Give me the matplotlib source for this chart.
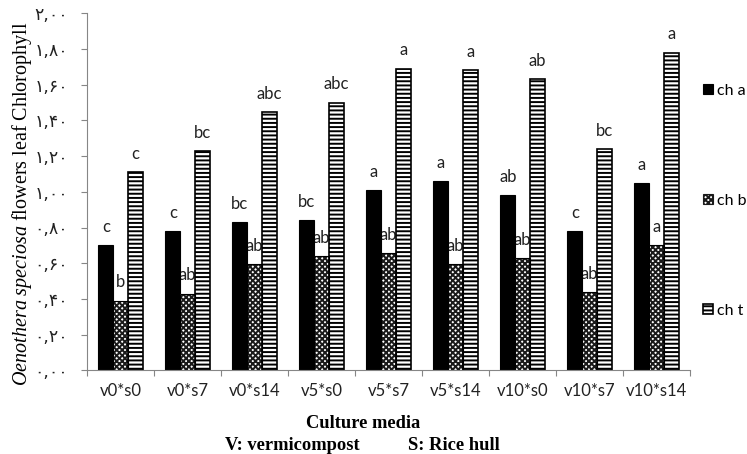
import matplotlib
matplotlib.use("Agg")
import matplotlib.pyplot as plt
import numpy as np
from matplotlib.patches import Patch

categories = ['v0*s0', 'v0*s7', 'v0*s14', 'v5*s0', 'v5*s7', 'v5*s14', 'v10*s0', 'v10*s7', 'v10*s14']
ch_a = [0.70, 0.78, 0.83, 0.84, 1.01, 1.06, 0.98, 0.78, 1.05]
ch_b = [0.39, 0.43, 0.595, 0.64, 0.655, 0.595, 0.63, 0.44, 0.70]
ch_t = [1.11, 1.23, 1.445, 1.50, 1.69, 1.68, 1.63, 1.24, 1.78]
let_a = ['c', 'c', 'bc', 'bc', 'a', 'a', 'ab', 'c', 'a']
let_b = ['b', 'ab', 'ab', 'ab', 'ab', 'ab', 'ab', 'ab', 'a']
let_t = ['c', 'bc', 'abc', 'abc', 'a', 'a', 'ab', 'bc', 'a']
series_names = ['ch a', 'ch b', 'ch t']
ytick_vals = [0.0, 0.2, 0.4, 0.6, 0.8, 1.0, 1.2, 1.4, 1.6, 1.8, 2.0]
ytick_labels = ['۰,۰۰', '۰,۲۰', '۰,۴۰', '۰,۶۰', '۰,۸۰', '۱,۰۰', '۱,۲۰', '۱,۴۰', '۱,۶۰', '۱,۸۰', '۲,۰۰']

plt.rcParams['hatch.linewidth'] = 1.4
plt.rcParams['mathtext.fontset'] = 'custom'
plt.rcParams['mathtext.rm'] = 'Liberation Serif'
plt.rcParams['mathtext.it'] = 'Liberation Serif:italic'

sans = 'Lato'
fig = plt.figure(figsize=(7.47, 4.54), dpi=100)
ax = fig.add_axes([87/747, 1 - 370.3/454, (690 - 87)/747, (370.3 - 13.3)/454])

x = np.arange(len(categories))
w = 0.22
gray = '#868686'

ax.bar(x - w, ch_a, w, color='black', edgecolor='black', linewidth=0.8, zorder=2)
ax.bar(x, ch_b, w, color='white', edgecolor='#1a1a1a', hatch='xxxxxx', linewidth=0, zorder=2)
ax.bar(x, ch_b, w, fill=False, edgecolor='black', linewidth=0.8, zorder=2.1)
ax.bar(x + w, ch_t, w, color='white', edgecolor='black', hatch='----', linewidth=1.2, zorder=2)

for xs, vals, labs in [(x - w, ch_a, let_a), (x, ch_b, let_b), (x + w, ch_t, let_t)]:
    for xi, v, lab in zip(xs, vals, labs):
        ax.annotate(lab, (xi, v), xytext=(0, 9.5), textcoords='offset points',
                    ha='center', va='baseline', fontsize=12, family=sans,
                    color='#222222', zorder=1)

ax.set_xlim(-0.5, len(categories) - 0.5)
ax.set_ylim(0, 2.0)
ax.set_yticks(ytick_vals)
ax.set_yticklabels(ytick_labels, family='DejaVu Sans', fontsize=12.5, color='#222222')
ax.set_xticks(x)
ax.set_xticklabels(categories, family=sans, fontsize=12, color='#222222')
ax.set_xticks(np.arange(-0.5, len(categories), 1.0), minor=True)
ax.tick_params(axis='x', which='major', length=0, pad=9)
ax.tick_params(axis='x', which='minor', length=4.5, color=gray, width=0.8)
ax.tick_params(axis='y', length=4.5, color=gray, width=0.8, pad=9)
for s in ['top', 'right']:
    ax.spines[s].set_visible(False)
for s in ['left', 'bottom']:
    ax.spines[s].set_color(gray)
    ax.spines[s].set_linewidth(0.8)

fig.text(22/747, 1 - 204/454, r'$\mathit{Oenothera\ speciosa}$ flowers leaf Chlorophyll',
         rotation=90, ha='center', va='center', family='Liberation Serif', fontsize=14.5)

fig.text(363/747, 1 - 423/454, 'Culture media', ha='center', va='center',
         family='Liberation Serif', fontweight='bold', fontsize=13.3)
fig.text(225/747, 1 - 445/454, 'V: vermicompost', ha='left', va='center',
         family='Liberation Serif', fontweight='bold', fontsize=13.3)
fig.text(408/747, 1 - 445/454, 'S: Rice hull', ha='left', va='center',
         family='Liberation Serif', fontweight='bold', fontsize=13.3)

handles = [Patch(facecolor='black', edgecolor='black', linewidth=0.8),
           Patch(facecolor='white', edgecolor='#1a1a1a', hatch='xxxxxx', linewidth=0.8),
           Patch(facecolor='white', edgecolor='black', hatch='----', linewidth=1.2)]
fig.legend(handles, series_names, loc='upper left', bbox_to_anchor=(703/747, 1 - 84/454),
           frameon=False, borderpad=0, borderaxespad=0, labelspacing=6.0, handlelength=0.6,
           handleheight=0.6, handletextpad=0.25, prop={'family': sans, 'size': 11.5})

fig.savefig('out.png', dpi=100)
